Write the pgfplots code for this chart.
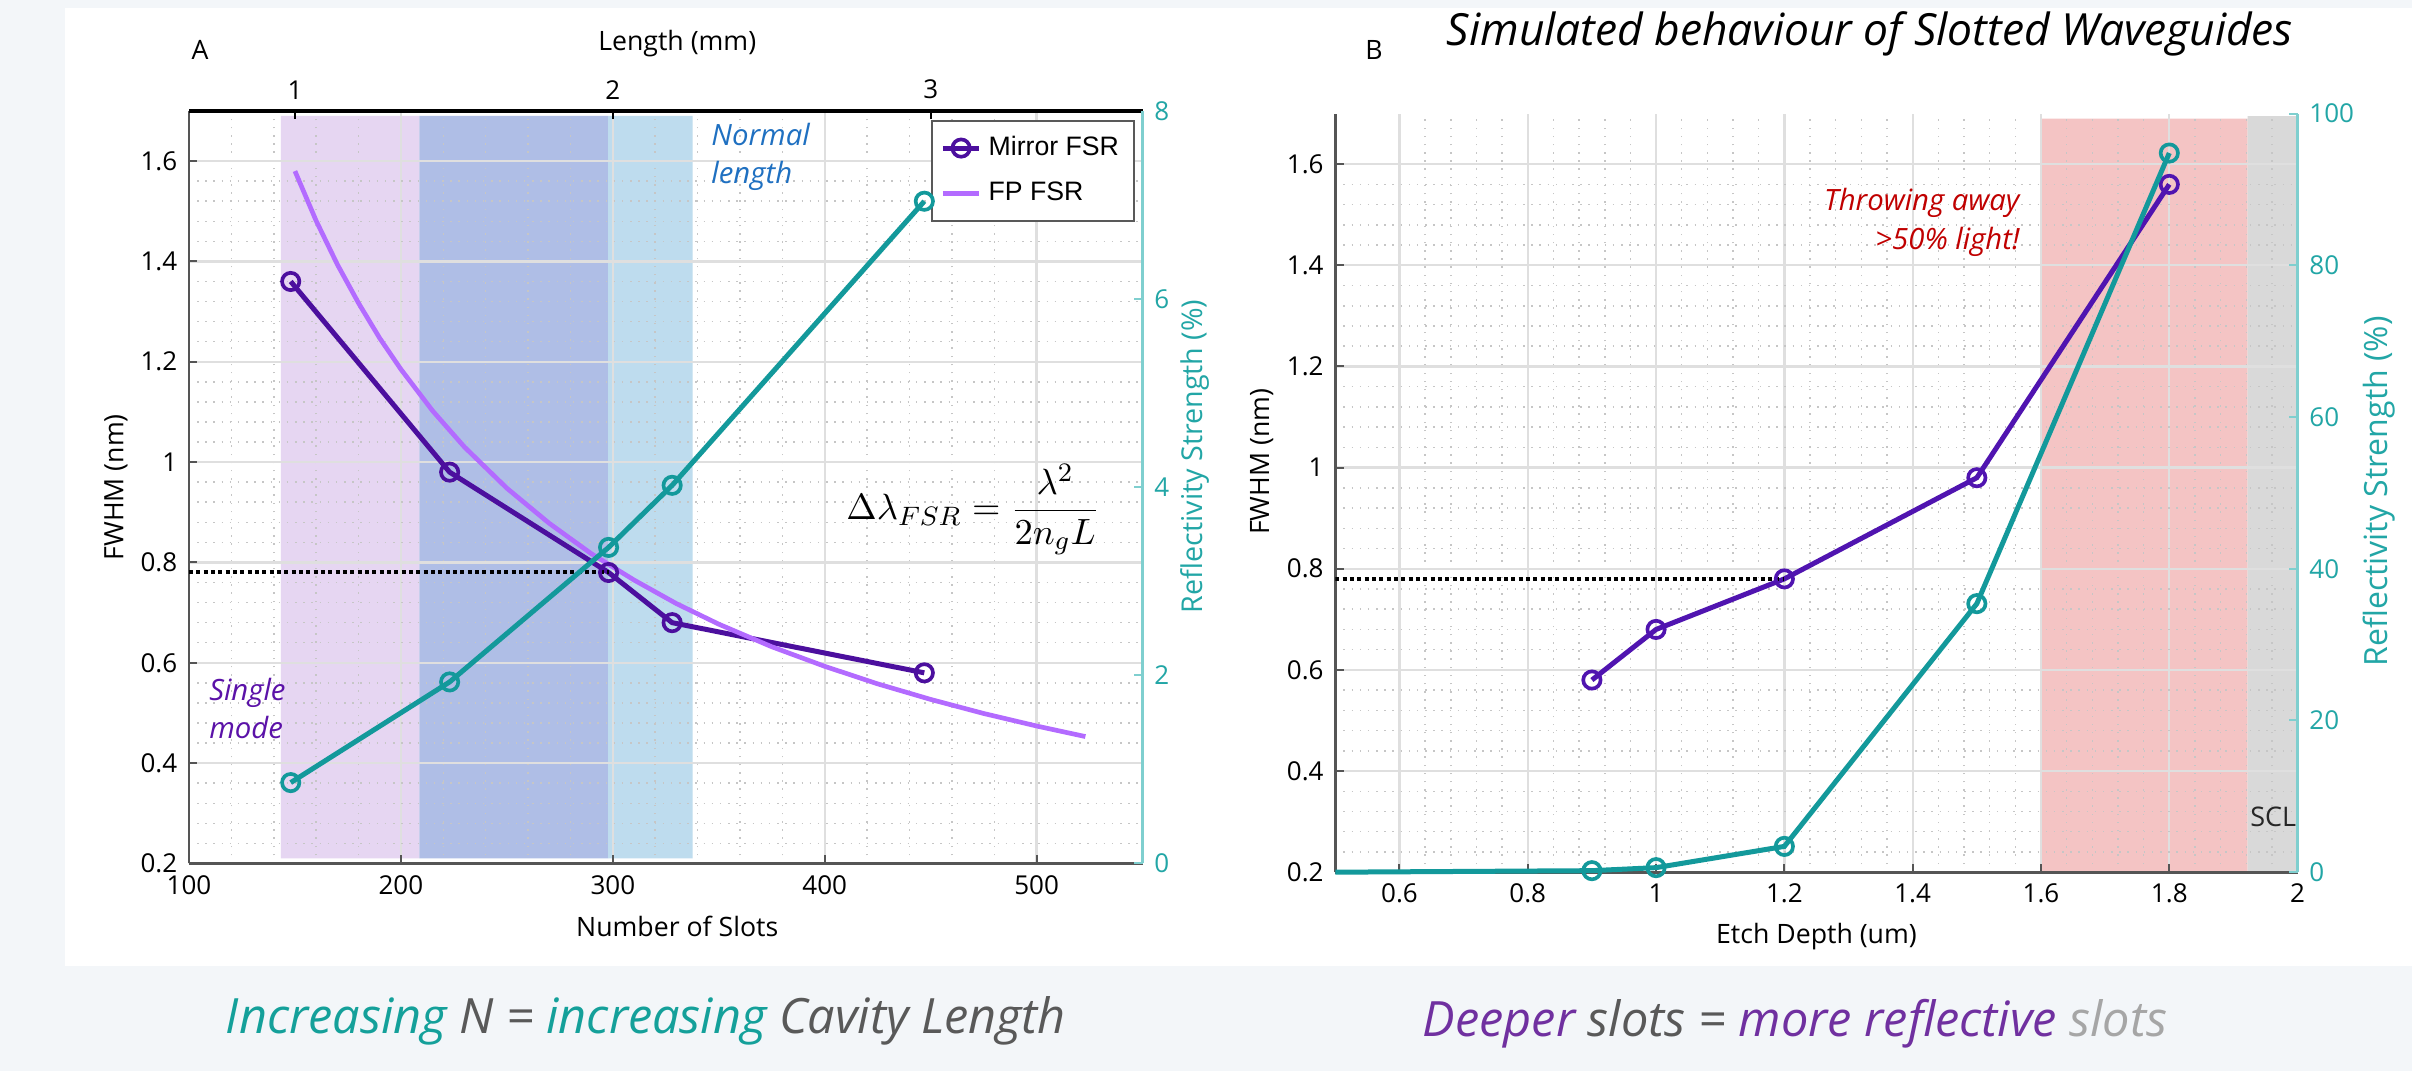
\documentclass[border=0pt]{standalone}
\usepackage{fontspec}
\setmainfont{Open Sans}
\newfontfamily\legfont{Liberation Sans}
\usepackage{pgfplots}
\pgfplotsset{compat=1.18}
\definecolor{bgc}{HTML}{F3F6F9}
\definecolor{mirror}{HTML}{4C0F9E}
\definecolor{mirrorB}{HTML}{5014B0}
\definecolor{fpc}{HTML}{B36BFF}
\definecolor{tealL}{HTML}{13999B}
\definecolor{tealT}{HTML}{22A6A6}
\definecolor{tealAx}{HTML}{7FCFCF}
\definecolor{lav}{HTML}{E6D6F2}
\definecolor{peri}{HTML}{AFBEE6}
\definecolor{lblue}{HTML}{BEDCEE}
\definecolor{redr}{HTML}{F4C4C4}
\definecolor{grayr}{HTML}{D9D9D9}
\definecolor{normblue}{HTML}{1F70C1}
\definecolor{singpur}{HTML}{5B12A8}
\definecolor{throwred}{HTML}{C00000}
\definecolor{capteal}{HTML}{14A09A}
\definecolor{capgray}{HTML}{595959}
\definecolor{cappur}{HTML}{7030A0}
\definecolor{caplg}{HTML}{A6A6A6}
\definecolor{axgray}{HTML}{555555}
\pgfplotsset{
  base/.style={scale only axis, anchor=south west,
    /pgf/number format/assume math mode=true,
    tick label style={font=\fontsize{7.8}{9}\selectfont},
    label style={font=\fontsize{8}{9.6}\selectfont},
  },
  gridded/.style={
    grid=both, minor x tick num=4, minor y tick num=4,
    major grid style={draw=gray!25, line width=0.7pt},
    minor grid style={draw=gray!45, line width=0.45pt, dotted},
    tick align=inside, major tick length=2.5pt, minor tick length=0pt,
    x axis line style={draw=axgray, line width=0.8pt, -},
    y axis line style={draw=axgray, line width=0.8pt, -},
    tick style={draw=axgray, line width=0.6pt},
  },
}
\begin{document}
\begin{tikzpicture}[x=1pt,y=1pt]
\fill[bgc] (0,0) rectangle (723.6,321.3);
\fill[white] (19.5,31.5) rectangle (723.6,319.0);

% ================= LEFT PANEL =================
\begin{axis}[base, at={(56.7pt,62.25pt)}, width=286.08pt, height=225.78pt,
  xmin=100, xmax=550, ymin=0.2, ymax=1.7, hide axis]
\addplot[fill=lav, draw=none] coordinates {(143.3,0.21)(208.7,0.21)(208.7,1.69)(143.3,1.69)(143.3,0.21)};
\addplot[fill=peri, draw=none] coordinates {(208.7,0.21)(297.8,0.21)(297.8,1.69)(208.7,1.69)(208.7,0.21)};
\addplot[fill=lblue, draw=none] coordinates {(297.8,0.21)(337.6,0.21)(337.6,1.69)(297.8,1.69)(297.8,0.21)};
\end{axis}

\begin{axis}[base, gridded, at={(56.7pt,62.25pt)}, width=286.08pt, height=225.78pt,
  xmin=100, xmax=550, ymin=0.2, ymax=1.7,
  axis x line*=bottom, axis y line*=left,
  xtick={100,200,300,400,500}, ytick={0.2,0.4,0.6,0.8,1,1.2,1.4,1.6},
  xlabel={Number of Slots}, ylabel={FWHM (nm)},
  xlabel style={at={(axis description cs:0.512,-0.083)}, anchor=center},
  ylabel style={at={(axis description cs:-0.0766,0.5)}, anchor=center},
  legend cell align=left,
  legend image code/.code={\draw[mark repeat=2,mark phase=2,#1] plot coordinates {(0pt,0pt)(5.5pt,0pt)(11pt,0pt)};},
  legend style={at={(0.992,0.988)}, anchor=north east,
    font=\legfont\fontsize{8}{9.5}\selectfont, draw=gray!70!black, line width=0.6pt,
    fill=white, inner sep=2.5pt, row sep=2.5pt},
  ]
\addplot[mirror, line width=1.5pt, mark=o, mark size=2.6pt, mark options={line width=1.1pt}]
  coordinates {(148,1.36)(223,0.98)(298,0.78)(328,0.68)(447,0.58)};
\addlegendentry{Mirror FSR}
\addplot[fpc, line width=1.4pt] coordinates {
  (150,1.580)(160,1.481)(170,1.394)(180,1.317)(190,1.247)(200,1.185)(215,1.102)
  (230,1.030)(250,0.948)(270,0.878)(290,0.817)(310,0.765)(330,0.718)(350,0.677)
  (375,0.632)(400,0.593)(425,0.558)(450,0.527)(475,0.499)(500,0.474)(523,0.453)};
\addlegendentry{FP FSR}
\addplot[black, line width=1.2pt, densely dotted, forget plot] coordinates {(100,0.78)(298,0.78)};
\node[anchor=west, align=left, text=normblue, font=\itshape\fontsize{8.8}{11.4}\selectfont]
  at (axis cs:341,1.609) {Normal\\length};
\node[anchor=west, align=left, text=singpur, font=\itshape\fontsize{8.8}{11.4}\selectfont]
  at (axis cs:104,0.508) {Single\\mode};
\node[anchor=center, font=\fontsize{11.2}{13}\selectfont]
  at (axis cs:470,0.905) {$\displaystyle \Delta\lambda_{FSR}=\frac{\lambda^2}{2n_gL}$};
\end{axis}

\begin{axis}[base, at={(56.7pt,62.25pt)}, width=286.08pt, height=225.78pt,
  xmin=100, xmax=550, ymin=0, ymax=8, clip=false,
  axis x line*=top, axis y line*=right,
  tick align=inside, major tick length=2.5pt,
  xtick={150,300,450}, xticklabels={1,2,3}, ytick={0,2,4,6,8},
  x axis line style={black, line width=1pt, -},
  y axis line style={tealAx, line width=0.9pt, -},
  xtick style={black, line width=0.6pt}, ytick style={tealAx, line width=0.6pt},
  yticklabel style={text=tealT},
  xlabel={Length (mm)}, ylabel={Reflectivity Strength (\%)},
  xlabel style={at={(axis description cs:0.512,1.089)}, anchor=center},
  ylabel style={at={(axis description cs:1.055,0.541)}, anchor=center, text=tealT,
    font=\fontsize{8.6}{10}\selectfont},
  ]
\addplot[tealL, line width=1.5pt, mark=o, mark size=2.6pt, mark options={line width=1.1pt}]
  coordinates {(148,0.86)(223,1.93)(298,3.36)(328,4.02)(447,7.04)};
\end{axis}

% ================= RIGHT PANEL =================
\begin{axis}[base, at={(400.59pt,59.64pt)}, width=288.69pt, height=227.58pt,
  xmin=0.5, xmax=2, ymin=0.2, ymax=1.7, hide axis]
\addplot[fill=redr, draw=none] coordinates {(1.6,0.2)(1.922,0.2)(1.922,1.69)(1.6,1.69)(1.6,0.2)};
\addplot[fill=grayr, draw=none] coordinates {(1.922,0.2)(2,0.2)(2,1.695)(1.922,1.695)(1.922,0.2)};
\end{axis}

\begin{axis}[base, gridded, at={(400.59pt,59.64pt)}, width=288.69pt, height=227.58pt,
  xmin=0.5, xmax=2, ymin=0.2, ymax=1.7,
  axis x line*=bottom, axis y line*=left,
  xtick={0.6,0.8,1,1.2,1.4,1.6,1.8,2}, ytick={0.2,0.4,0.6,0.8,1,1.2,1.4,1.6},
  xlabel={Etch Depth (um)}, ylabel={FWHM (nm)},
  xlabel style={at={(axis description cs:0.5,-0.0854)}, anchor=center},
  ylabel style={at={(axis description cs:-0.0765,0.541)}, anchor=center},
  ]
\addplot[mirrorB, line width=1.5pt, mark=o, mark size=2.6pt, mark options={line width=1.1pt}]
  coordinates {(0.9,0.58)(1.0,0.68)(1.2,0.78)(1.5,0.98)(1.8,1.56)};
\addplot[black, line width=1.2pt, densely dotted] coordinates {(0.5,0.78)(1.2,0.78)};
\node[anchor=east, align=right, text=throwred, font=\itshape\fontsize{8.8}{11.9}\selectfont]
  at (axis cs:1.585,1.485) {Throwing away\\>50\% light!};
\node[anchor=center, font=\fontsize{8.1}{9}\selectfont, text=black!85] at (axis cs:1.962,0.309) {SCL};
\end{axis}

\begin{axis}[base, at={(400.59pt,59.64pt)}, width=288.69pt, height=227.58pt,
  xmin=0.5, xmax=2, ymin=0, ymax=100, clip=false,
  hide x axis, axis y line*=right,
  tick align=inside, major tick length=2.5pt,
  ytick={0,20,40,60,80,100},
  y axis line style={tealAx, line width=0.9pt, -},
  ytick style={tealAx, line width=0.6pt},
  yticklabel style={text=tealT},
  ylabel={Reflectivity Strength (\%)},
  ylabel style={at={(axis description cs:1.0844,0.502)}, anchor=center, text=tealT,
    font=\fontsize{9.6}{11}\selectfont},
  ]
\addplot[tealL, line width=1.5pt, mark=o, mark size=2.6pt, mark options={line width=1.1pt},
  mark indices={2,3,4,5,6}]
  coordinates {(0.5,0)(0.9,0.2)(1.0,0.6)(1.2,3.4)(1.5,35.4)(1.8,94.8)};
\end{axis}

% ================= TEXT =================
\node[font=\fontsize{8}{9}\selectfont] at (60.0,306.3) {A};
\node[font=\fontsize{8}{9}\selectfont] at (412.2,306.3) {B};
\node[font=\itshape\fontsize{13.3}{15}\selectfont] at (561,311.0) {Simulated behaviour of Slotted Waveguides};
\node[font=\itshape\fontsize{14.6}{17}\selectfont] at (193.8,15.0)
  {\textcolor{capteal}{Increasing} \textcolor{capgray}{N =} \textcolor{capteal}{increasing} \textcolor{capgray}{Cavity Length}};
\node[font=\itshape\fontsize{14.6}{17}\selectfont] at (538.5,14.1)
  {\textcolor{cappur}{Deeper} \textcolor{capgray}{slots =} \textcolor{cappur}{more reflective} \textcolor{caplg}{slots}};
\end{tikzpicture}
\end{document}
